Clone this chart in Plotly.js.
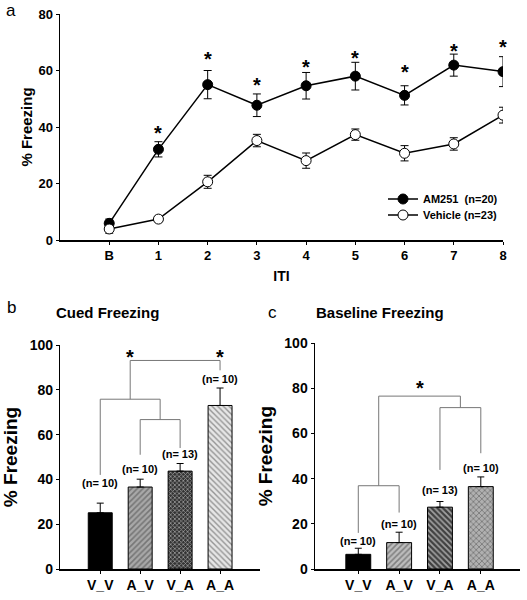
<!DOCTYPE html>
<html><head><meta charset="utf-8">
<script src="https://cdn.plot.ly/plotly-3.0.1.min.js"></script>
<style>body{margin:0;padding:0;background:#fff}#chart{width:527px;height:600px}</style>
</head><body><div id="chart"></div>
<script>
// ---- Panel a data ----
const itiLabels = ['B','1','2','3','4','5','6','7','8'];
const am251Mean = [5.9, 32.1, 55.0, 47.7, 54.6, 58.0, 51.2, 61.9, 59.6];
const am251Err  = [1.5, 2.7, 5.0, 4.0, 4.7, 4.9, 3.4, 3.9, 5.3];
const vehicleMean = [3.9, 7.4, 20.6, 35.2, 28.1, 37.3, 30.7, 34.0, 44.2];
const vehicleErr  = [1.5, 1.0, 2.3, 2.2, 2.7, 2.0, 2.7, 2.2, 2.8];
const starY = [null, 39.5, 66, 56.6, 63, 66.3, 61.4, 68.7, 70.2];

// ---- Panels b, c data ----
const groups = ['V_V','A_V','V_A','A_A'];
const cuedMean = [25.1, 36.6, 43.7, 73.0];
const cuedErr  = [4.3, 3.5, 3.4, 7.8];
const cuedN    = ['(n= 10)','(n= 10)','(n= 13)','(n= 10)'];
const cuedNY   = [38.2, 44.6, 51.4, 84.7];
const baseMean = [6.5, 11.7, 27.4, 36.5];
const baseErr  = [2.7, 4.6, 2.5, 4.3];
const baseN    = ['(n= 10)','(n= 10)','(n= 13)','(n= 10)'];
const baseNY   = [12.5, 20.0, 34.9, 44.6];
// brackets: [xLeft, xRight, yTop, yLeftFoot, yRightFoot]
const cuedBrackets = [[1, 2, 66.7, 51, 54], [0, 1.5, 75.8, 42, 66.7], [0.75, 3, 93.1, 75.8, 88.7]];
const cuedStarX = [0.75, 3];
const cuedStarY = [96.8, 96.8];
const baseBrackets = [[0, 1, 36.9, 16, 25], [2, 3, 71.5, 43.9, 51.3], [0.5, 2.5, 76.6, 36.9, 71.5]];
const baseStarX = [1.5];
const baseStarY = [82.3];

const FONT = 'Liberation Sans, Arial, sans-serif';
const idx = itiLabels.map((_, i) => i);
const gidx = groups.map((_, i) => i);

const traces = [];
traces.push({
  x: idx, y: am251Mean, type: 'scatter', mode: 'lines+markers', name: 'AM251\u00a0 (n=20)',
  xaxis: 'x', yaxis: 'y', legend: 'legend',
  line: {color: '#000', width: 1.5},
  marker: {size: 10, color: '#000', line: {color: '#000', width: 1}},
  error_y: {type: 'data', array: am251Err, visible: true, color: '#000', thickness: 1, width: 4}
});
traces.push({
  x: idx, y: vehicleMean, type: 'scatter', mode: 'lines+markers', name: 'Vehicle (n=23)',
  xaxis: 'x', yaxis: 'y', legend: 'legend2',
  line: {color: '#000', width: 1.5},
  marker: {size: 10, color: '#fff', line: {color: '#000', width: 1}},
  error_y: {type: 'data', array: vehicleErr, visible: true, color: '#000', thickness: 1, width: 4}
});

function bracketTraces(list, xa, ya) {
  list.forEach(b => {
    traces.push({
      x: [b[0], b[0], b[1], b[1]], y: [b[3], b[2], b[2], b[4]],
      type: 'scatter', mode: 'lines', xaxis: xa, yaxis: ya, showlegend: false, hoverinfo: 'skip',
      line: {color: '#777', width: 1}
    });
  });
}
bracketTraces(cuedBrackets, 'x2', 'y2');
bracketTraces(baseBrackets, 'x3', 'y3');

traces.push({
  x: gidx, y: cuedMean, type: 'bar', xaxis: 'x2', yaxis: 'y2', showlegend: false, width: 0.6,
  marker: {
    color: ['#000', '#a8a8a8', '#333333', '#e6e6e6'],
    line: {color: '#000', width: 1},
    pattern: {shape: ['', '/', 'x', '\\'], fgcolor: ['#000', '#222', '#000', '#555'],
              size: [4, 4, 3, 4], solidity: [0.4, 0.4, 0.45, 0.35], fillmode: 'overlay'}
  },
  error_y: {type: 'data', symmetric: false, array: cuedErr, arrayminus: [0,0,0,0], color: '#000', thickness: 1, width: 3.5}
});
traces.push({
  x: gidx, y: baseMean, type: 'bar', xaxis: 'x3', yaxis: 'y3', showlegend: false, width: 0.61,
  marker: {
    color: ['#000', '#bdbdbd', '#404040', '#b0b0b0'],
    line: {color: '#000', width: 1},
    pattern: {shape: ['', '/', '\\', 'x'], fgcolor: ['#000', '#333', '#000', '#222'],
              size: [4, 4, 4, 4], solidity: [0.4, 0.4, 0.45, 0.4], fillmode: 'overlay'}
  },
  error_y: {type: 'data', symmetric: false, array: baseErr, arrayminus: [0,0,0,0], color: '#000', thickness: 1, width: 3.5}
});

const ann = [];
idx.forEach(i => {
  if (starY[i] !== null) ann.push({x: i, y: starY[i], xref: 'x', yref: 'y', text: '*', showarrow: false,
    font: {family: FONT, size: 20, color: '#000', weight: 'bold'}, yshift: -5});
});
cuedStarX.forEach((x, i) => ann.push({x: x, y: cuedStarY[i], xref: 'x2', yref: 'y2', text: '*', showarrow: false,
    font: {family: FONT, size: 20, color: '#000', weight: 'bold'}, yshift: -5}));
baseStarX.forEach((x, i) => ann.push({x: x, y: baseStarY[i], xref: 'x3', yref: 'y3', text: '*', showarrow: false,
    font: {family: FONT, size: 20, color: '#000', weight: 'bold'}, yshift: -5}));
gidx.forEach(i => {
  ann.push({x: i, y: cuedNY[i], xref: 'x2', yref: 'y2', text: cuedN[i], showarrow: false,
    font: {family: FONT, size: 11, color: '#000', weight: 'bold'}});
  ann.push({x: i, y: baseNY[i], xref: 'x3', yref: 'y3', text: baseN[i], showarrow: false,
    font: {family: FONT, size: 11, color: '#000', weight: 'bold'}});
});
const paperText = (x, y, t, size, weight) => ({x: x / 527, y: 1 - y / 600, xref: 'paper', yref: 'paper',
  text: t, showarrow: false, xanchor: 'center', yanchor: 'middle', font: {family: FONT, size: size, color: '#000', weight: weight}});
ann.push(paperText(11, 11, 'a', 17, 'normal'));
ann.push(paperText(11, 307, 'b', 17, 'normal'));
ann.push(paperText(272, 312, 'c', 17, 'normal'));
ann.push(paperText(107, 313, 'Cued Freezing', 15, 'bold'));
ann.push(paperText(380, 313, 'Baseline Freezing', 15, 'bold'));

const axBase = {
  showline: true, linecolor: '#000', linewidth: 1.5, showgrid: false, zeroline: false,
  ticks: 'outside', ticklen: 3, tickwidth: 1, tickcolor: '#000', fixedrange: true
};
const tickF = size => ({family: FONT, size: size, color: '#000', weight: 'bold'});
const legendBase = y => ({x: 383 / 527, y: 1 - y / 600, xanchor: 'left', yanchor: 'middle', bgcolor: 'rgba(0,0,0,0)',
  font: {family: FONT, size: 11, color: '#000', weight: 'bold'}, itemwidth: 30, borderwidth: 0});

const layout = {
  width: 527, height: 600, autosize: false,
  margin: {l: 0, r: 0, t: 0, b: 0},
  paper_bgcolor: '#fff', plot_bgcolor: 'rgba(0,0,0,0)',
  showlegend: true,
  legend: legendBase(199),
  legend2: legendBase(215),
  xaxis: Object.assign({}, axBase, {domain: [60 / 527, 503 / 527], anchor: 'y', range: [-1, 8],
    tickmode: 'array', tickvals: idx, ticktext: itiLabels, tickfont: tickF(13),
    title: {text: 'ITI', font: tickF(14), standoff: 9}}),
  yaxis: Object.assign({}, axBase, {domain: [0.6, 1 - 14 / 600], anchor: 'x', range: [0, 80],
    tickmode: 'array', tickvals: [0, 20, 40, 60, 80], tickfont: tickF(13),
    title: {text: '% Freezing', font: tickF(15), standoff: 2}}),
  xaxis2: Object.assign({}, axBase, {domain: [60.3 / 527, 260 / 527], anchor: 'y2', range: [-1, 4],
    tickmode: 'array', tickvals: gidx, ticktext: groups, tickfont: tickF(14)}),
  yaxis2: Object.assign({}, axBase, {domain: [1 - 569 / 600, 1 - 345 / 600], anchor: 'x2', range: [0, 100],
    tickmode: 'array', tickvals: [0, 20, 40, 60, 80, 100], tickfont: tickF(14),
    title: {text: '% Freezing', font: tickF(19), standoff: 8}}),
  xaxis3: Object.assign({}, axBase, {domain: [315 / 527, 520 / 527], anchor: 'y3', range: [-1.06, 3.96],
    tickmode: 'array', tickvals: gidx, ticktext: groups, tickfont: tickF(14)}),
  yaxis3: Object.assign({}, axBase, {domain: [1 - 569 / 600, 1 - 343.3 / 600], anchor: 'x3', range: [0, 100],
    tickmode: 'array', tickvals: [0, 20, 40, 60, 80, 100], tickfont: tickF(14),
    title: {text: '% Freezing', font: tickF(19), standoff: 6}}),
  annotations: ann,
  bargap: 0
};

Plotly.newPlot('chart', traces, layout, {displayModeBar: false, staticPlot: true});
</script>
</body></html>
